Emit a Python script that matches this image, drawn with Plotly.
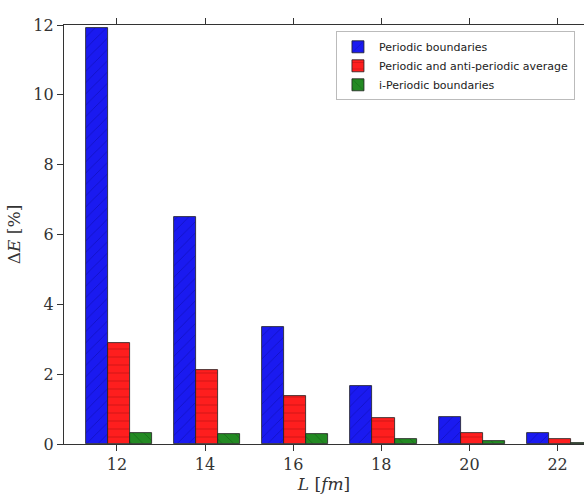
import plotly.graph_objects as go

L = [12, 14, 16, 18, 20, 22]
periodic = [11.92, 6.50, 3.35, 1.66, 0.77, 0.32]
pap_average = [2.89, 2.12, 1.38, 0.75, 0.32, 0.14]
i_periodic = [0.32, 0.29, 0.28, 0.14, 0.08, 0.04]

names = ["Periodic boundaries", "Periodic and anti-periodic average", "i-Periodic boundaries"]
colors = ["#1a1af0", "#fe1e1e", "#238a23"]
fg = ["#1010c0", "#c81414", "#186a18"]
shapes = ["/", "-", "\\"]
offsets = [-0.45, 0.05, 0.55]
series = [periodic, pap_average, i_periodic]

fig = go.Figure()
for vals, name, c, f, s, o in zip(series, names, colors, fg, shapes, offsets):
    fig.add_trace(go.Bar(
        x=[v + o for v in L], y=vals, name=name, width=0.5,
        marker=dict(color=c, line=dict(color="#202020", width=0.8),
                    pattern=dict(shape=s, fgcolor=f, bgcolor=c, size=8, solidity=0.1, fillmode="replace")),
    ))

axis_common = dict(showline=True, linecolor="#333333", linewidth=1.2,
                   ticks="outside", ticklen=6, tickcolor="#333333", showgrid=False, zeroline=False,
                   tickfont=dict(family="DejaVu Serif", size=16, color="#333333"))

fig.update_layout(
    width=584, height=494,
    margin=dict(l=64, r=0, t=25, b=50, autoexpand=False),
    plot_bgcolor="white", paper_bgcolor="white",
    barmode="overlay", bargap=0,
    showlegend=True,
    legend=dict(x=0.523, y=0.985, xanchor="left", yanchor="top",
                bgcolor="white", bordercolor="#bbbbbb", borderwidth=1,
                font=dict(family="DejaVu Sans", size=11, color="#222222"),
                tracegroupgap=0, itemwidth=32),
    xaxis=dict(range=[10.8, 22.6], tickvals=L, ticktext=[str(v) for v in L], mirror="ticks",
               title=dict(text="<i>L</i> [<i>fm</i>]", standoff=2,
                          font=dict(family="DejaVu Serif", size=17, color="#333333")),
               **axis_common),
    yaxis=dict(range=[0, 12], tickvals=[0, 2, 4, 6, 8, 10, 12], mirror=False,
               title=dict(text="Δ<i>E</i> [%]", standoff=8,
                          font=dict(family="DejaVu Serif", size=17, color="#333333")),
               **axis_common),
)

fig.write_html("out.html")
